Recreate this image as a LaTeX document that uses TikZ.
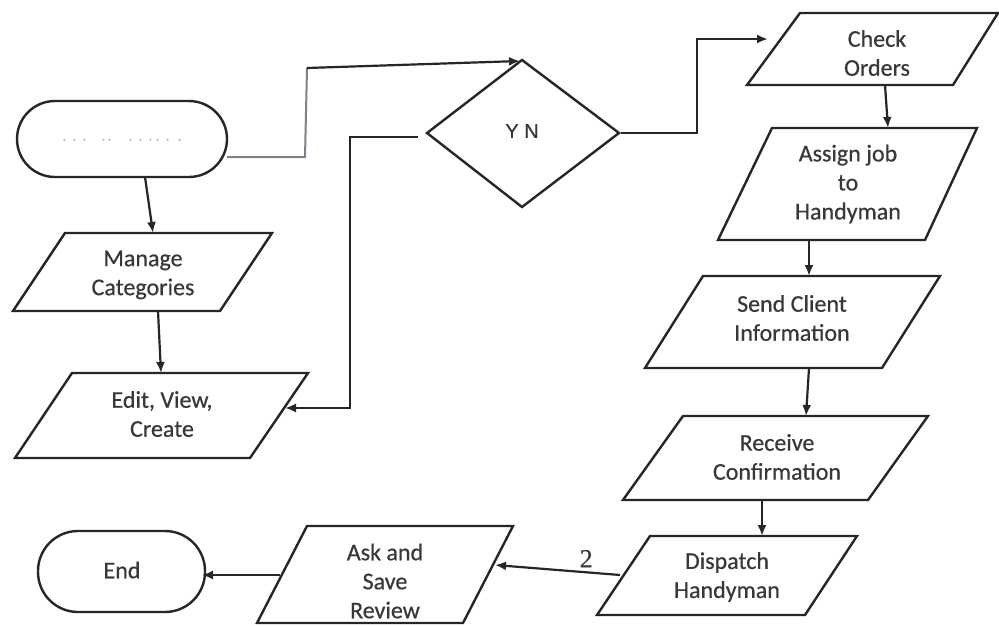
\documentclass[tikz,border=0pt]{standalone}
\usepackage{fontspec}
\setmainfont{Carlito}[FakeBold=0.5]
\newfontfamily\arialfont{Liberation Sans}[FakeBold=0.6]
\newfontfamily\serifdigit{Liberation Serif}[FakeBold=0.4]
\usetikzlibrary{arrows.meta}
\definecolor{linec}{HTML}{262626}
\definecolor{textc}{HTML}{383838}
\definecolor{grayline}{HTML}{7C808A}
\tikzset{
  shapeline/.style={draw=linec, line width=2.4pt, line join=miter},
  lbl/.style={text=textc, font=\fontsize{24}{29}\selectfont, align=center, inner sep=0pt},
  conn/.style={draw=linec, line width=2.2pt, -{Latex[length=11pt,width=9pt]}},
}
\begin{document}
\begin{tikzpicture}[x=1pt,y=-1pt]
\useasboundingbox (0,0) rectangle (999,626);
\fill[white] (0,0) rectangle (999,626);

% terminals
\draw[shapeline, rounded corners=38pt] (17,101) rectangle (227,177);
\node[text=gray!60, font=\fontsize{12}{12}\selectfont, inner sep=0pt] (start) at (122,141) {·\hspace{7pt}·\hspace{7pt}·\hspace{16pt}·\hspace{3pt}·\hspace{18pt}·\hspace{7pt}·\hspace{7pt}·\hspace{4pt}·\hspace{7pt}·\hspace{9pt}·};
\draw[shapeline, rounded corners=40pt] (38,531) rectangle (205,612);
\node[lbl] (end) at (122,570) {End};

% diamond
\draw[shapeline] (427,133) -- (522,60) -- (619,133) -- (522,207) -- cycle;
\node[text=textc, font=\arialfont\fontsize{20}{20}\selectfont, inner sep=0pt] (dec) at (522,131) {Y N};

% parallelograms
\draw[shapeline] (65,233) -- (272,233) -- (220,311) -- (13,311) -- cycle;
\node[lbl] (manage) at (143,275) {Manage\\Categories};
\draw[shapeline] (72,373) -- (308,373) -- (250,458) -- (15,458) -- cycle;
\node[lbl] (edit) at (162,414) {Edit, View,\\Create};
\draw[shapeline] (800,13) -- (998,13) -- (953,85) -- (747,85) -- cycle;
\node[lbl] (check) at (877,53) {Check\\Orders};
\draw[shapeline] (772,128) -- (977,128) -- (925,240) -- (718,240) -- cycle;
\node[lbl] (assign) at (848,184) {Assign job\\to\\Handyman};
\draw[shapeline] (703,276) -- (940,276) -- (882,368) -- (645,368) -- cycle;
\node[lbl] (send) at (792,318) {Send Client\\Information};
\draw[shapeline] (683,416) -- (928,416) -- (868,500) -- (623,500) -- cycle;
\node[lbl] (receive) at (777,457) {Receive\\Confirmation};
\draw[shapeline] (650,536) -- (857,536) -- (805,615) -- (597,615) -- cycle;
\node[lbl] (dispatch) at (727,577) {Dispatch\\Handyman};
\draw[shapeline] (307,526) -- (513,526) -- (463,623) -- (257,623) -- cycle;
\node[lbl] (ask) at (385,581) {Ask and\\Save\\Review};

% connector end points
\coordinate (startB) at (145,177);
\coordinate (startR) at (227,157);
\coordinate (bend1) at (305,157);
\coordinate (bend2) at (307,68);
\coordinate (decT) at (520,61);
\coordinate (manageT) at (153,233);
\coordinate (manageB) at (158,311);
\coordinate (editT) at (161,373);
\coordinate (decL) at (418,137);
\coordinate (editR) at (285,408);
\coordinate (decR) at (621,133);
\coordinate (checkL) at (768,39);
\coordinate (checkB) at (885,85);
\coordinate (assignT) at (888,128);
\coordinate (assignB) at (809,240);
\coordinate (sendT) at (809,276);
\coordinate (sendB) at (809,368);
\coordinate (receiveT) at (806,416);
\coordinate (receiveB) at (762,500);
\coordinate (dispatchT) at (762,536);
\coordinate (dispatchL) at (620,575);
\coordinate (askR) at (495,565);
\coordinate (askL) at (280,575);
\coordinate (endR) at (202,575);

% connectors
\draw[conn] (startB) -- (manageT);
\draw[conn] (manageB) -- (editT);
\draw[draw=grayline, line width=2pt] (startR) -- (bend1) -- (bend2);
\draw[conn] (bend2) -- (decT);
\draw[conn] (decL) -- (350,137) -- (350,408) -- (editR);
\draw[conn] (decR) -- (697,133) -- (697,39) -- (checkL);
\draw[conn] (checkB) -- (assignT);
\draw[conn] (assignB) -- (sendT);
\draw[conn] (sendB) -- (receiveT);
\draw[conn] (receiveB) -- (dispatchT);
\draw[conn] (dispatchL) -- node[pos=0.27, above=4pt, text=textc, font=\serifdigit\fontsize{26}{26}\selectfont, inner sep=0pt] (two) {2} (askR);
\draw[conn] (askL) -- (endR);
\end{tikzpicture}
\end{document}
